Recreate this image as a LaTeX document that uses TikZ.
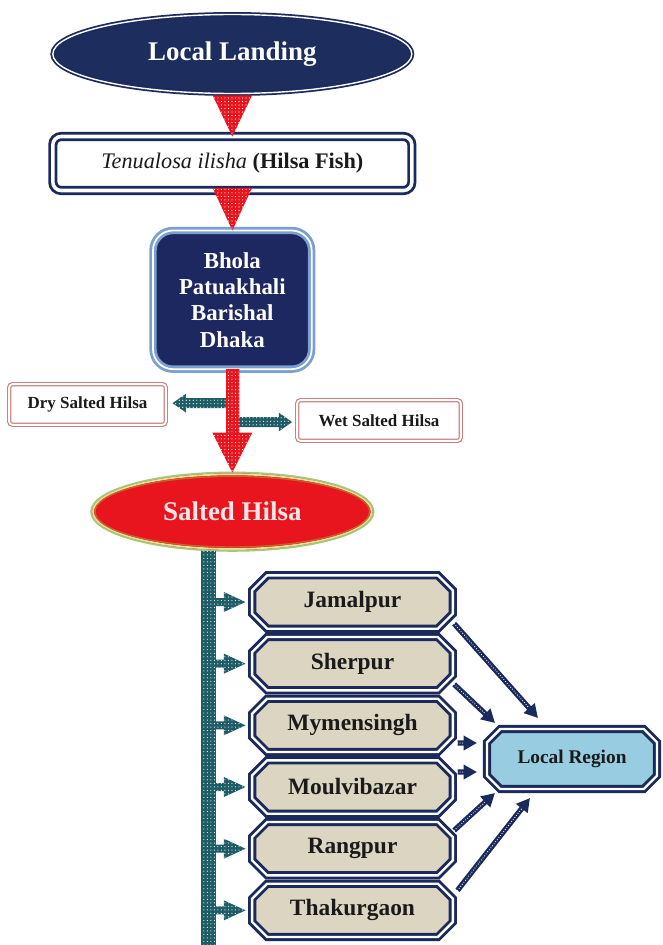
\documentclass[tikz,border=0pt]{standalone}
\usepackage{fontspec}
\setmainfont{Liberation Serif}
\usetikzlibrary{positioning, calc, patterns, shapes.geometric, arrows.meta}
\pgfdeclarelayer{background}
\pgfsetlayers{background,main}

\definecolor{navy}{HTML}{1B2A5C}
\definecolor{navyfill}{HTML}{1C2D5E}
\definecolor{cityfill}{HTML}{1D2760}
\definecolor{cityline}{HTML}{7A9FD0}
\definecolor{redfill}{HTML}{E8141E}
\definecolor{tealfill}{HTML}{1E5C66}
\definecolor{beige}{HTML}{DBD5C1}
\definecolor{lightblue}{HTML}{98CCE0}
\definecolor{pinkline}{HTML}{CC7E80}
\definecolor{saltgreen}{HTML}{A3C77A}
\definecolor{saltyellow}{HTML}{F3DC9A}
\definecolor{saltorange}{HTML}{C8602A}
\definecolor{saltred}{HTML}{E8141E}
\definecolor{saltpink}{HTML}{FBE6E6}
\definecolor{inktext}{HTML}{1A1A1A}

\begin{document}
\begin{tikzpicture}[
	landing/.style={ellipse, draw=navy, double=white, line width=1.5pt, double distance=1.2pt, fill=navyfill, text=white, minimum width=107.7mm, minimum height=23.7mm, inner sep=0pt, outer sep=0pt, font=\fontsize{23}{27}\selectfont\bfseries},
	fishbox/.style={rectangle, rounded corners=2.5mm, draw=navy, double=white, line width=2.4pt, double distance=3pt, fill=white, text=inktext, minimum width=107.7mm, minimum height=16.2mm, inner sep=0pt, outer sep=0pt, font=\fontsize{19}{22}\selectfont},
	citybox/.style={rectangle, rounded corners=6mm, draw=cityline, double=white, line width=2.4pt, double distance=1.5pt, fill=cityfill, text=white, align=center, minimum width=47.6mm, minimum height=41.6mm, inner sep=0pt, outer sep=0pt, font=\fontsize{19.5}{22.5}\selectfont\bfseries},
	endbox/.style={rectangle, rounded corners=1mm, draw=pinkline, double=white, line width=1pt, double distance=1.6pt, fill=white, text=inktext, minimum height=12.2mm, inner sep=0pt, outer sep=0pt, font=\fontsize{14.5}{17}\selectfont\bfseries},
	saltedhilsa/.style={ellipse, draw=saltgreen, line width=1.6pt, fill=saltred, text=saltpink, minimum width=84.7mm, minimum height=23.5mm, inner sep=0pt, outer sep=0pt, font=\fontsize{23}{27}\selectfont\bfseries,
		path picture={\draw[saltyellow, line width=1.6pt] (path picture bounding box.center) ellipse (41.8mm and 11.2mm);
		\draw[saltorange, line width=1.2pt] (path picture bounding box.center) ellipse (41.2mm and 10.6mm);}},
	district/.style={rectangle, text=inktext, minimum width=60.2mm, minimum height=16mm, inner sep=0pt, outer sep=0pt, font=\fontsize{20}{24}\selectfont\bfseries},
	regionbox/.style={district, minimum width=51mm, minimum height=18mm, font=\fontsize{16.5}{20}\selectfont\bfseries},
	octline/.style={draw=navy, double=white, line width=2.5pt, double distance=2pt},
	redarrow/.style={fill=redfill, postaction={pattern=dots, pattern color=white}},
	tealarrow/.style={fill=tealfill, postaction={pattern=dots, pattern color=white}},
	navyarrow/.style={draw=navy, line width=1.6mm, -{Triangle[width=4.2mm, length=4mm]}, postaction={draw=white, -, line width=1pt, dash pattern=on 0pt off 2.2pt, line cap=round, shorten >=4mm}},
	>=LaTeX
]
\useasboundingbox (0,0) rectangle (198.6mm,-283.5mm);

\node[landing] (landing) at (69.7mm,-16.2mm) {Local Landing};
\node[fishbox, below=12.9mm of landing] (fish) {\textit{Tenualosa ilisha} \textbf{(Hilsa Fish)}};
\node[citybox, below=12mm of fish] (bhola) {Bhola\\Patuakhali\\Barishal\\Dhaka};
\node[endbox, minimum width=47mm] (dry) at (26.25mm,-121.35mm) {Dry Salted Hilsa};
\node[endbox, minimum width=49.1mm] (wet) at (113.7mm,-126.15mm) {Wet Salted Hilsa};
\node[saltedhilsa, below=31mm of bhola] (salted) {Salted Hilsa};

\node[district] (jamalpur) at (105.75mm,-180.6mm) {Jamalpur};
\node[district, below=2.5mm of jamalpur] (sherpur) {Sherpur};
\node[district, below=2.5mm of sherpur] (mymensingh) {Mymensingh};
\node[district, below=2.5mm of mymensingh] (moulvibazar) {Moulvibazar};
\node[district, below=2.5mm of moulvibazar] (rangpur) {Rangpur};
\node[district, below=2.5mm of rangpur] (thakurgaon) {Thakurgaon};
\node[regionbox] (local) at (171.6mm,-227.7mm) {Local Region};

% octagon frames
\begin{pgfonlayer}{background}
\foreach \d/\c/\f in {jamalpur/4.5mm/beige, sherpur/4.5mm/beige, mymensingh/4.5mm/beige, moulvibazar/4.5mm/beige, rangpur/4.5mm/beige, thakurgaon/4.5mm/beige, local/4mm/lightblue}
	\draw[octline, fill=\f] ($(\d.north west)+(\c,0)$) -- ($(\d.north east)+(-\c,0)$) -- ($(\d.north east)+(0,-\c)$) -- ($(\d.south east)+(0,\c)$) -- ($(\d.south east)+(-\c,0)$) -- ($(\d.south west)+(\c,0)$) -- ($(\d.south west)+(0,\c)$) -- ($(\d.north west)+(0,-\c)$) -- cycle;
\end{pgfonlayer}

% landing to fish to bhola
\fill[redarrow] ($(landing.south)+(-5.9mm,-0.6mm)$) -- ($(landing.south)+(5.9mm,-0.6mm)$) -- (fish.north) -- cycle;
\fill[redarrow] ($(fish.south)+(-5.9mm,0.8mm)$) -- ($(fish.south)+(5.9mm,0.8mm)$) -- (bhola.north) -- cycle;

% dry and wet
\fill[tealarrow] ($(dry.east)+(2mm,0.4mm)$) -- ++(4mm,2.8mm) -- ++(0,-1.3mm) -- ++(12.5mm,0) -- ++(0,-3mm) -- ++(-12.5mm,0) -- ++(0,-1.3mm) -- cycle;
\fill[tealarrow] ($(wet.west)+(-1.5mm,-0.45mm)$) -- ++(-4mm,2.8mm) -- ++(0,-1.3mm) -- ++(-12.5mm,0) -- ++(0,-3mm) -- ++(12.5mm,0) -- ++(0,-1.3mm) -- cycle;

\fill[redarrow] ($(bhola.south)+(-1.9mm,0)$) -- ($(bhola.south)+(2.1mm,0)$) -- ($(salted.north)+(2.1mm,12mm)$) -- ($(salted.north)+(6mm,12mm)$) -- (salted.north) -- ($(salted.north)+(-6mm,12mm)$) -- ($(salted.north)+(-1.9mm,12mm)$) -- cycle;

% distribution line
\fill[tealarrow] ($(salted.south)+(-9.3mm,0)$) rectangle ($(salted.south)+(-4.8mm,-120mm)$);
\foreach \d in {jamalpur, sherpur, mymensingh, moulvibazar, rangpur, thakurgaon}
	\fill[tealarrow] ($(\d.west)+(-2mm,0)$) -- ++(-6.5mm,3mm) -- ++(0,-1.8mm) -- ++(-2.5mm,0) -- ++(0,-2.4mm) -- ++(2.5mm,0) -- ++(0,-1.8mm) -- cycle;

% to local region
\draw[navyarrow] ($(jamalpur.center)+(30.5mm,-6.5mm)$) -- ($(local.center)+(-10.2mm,12.3mm)$);
\draw[navyarrow] ($(sherpur.center)+(30.5mm,-6.2mm)$) -- ($(local.center)+(-23.1mm,10.8mm)$);
\draw[navyarrow] ($(mymensingh.center)+(31.5mm,-5.3mm)$) -- ($(local.center)+(-28.5mm,4.8mm)$);
\draw[navyarrow] ($(moulvibazar.center)+(31.5mm,4.5mm)$) -- ($(local.center)+(-28.5mm,-3.9mm)$);
\draw[navyarrow] ($(rangpur.center)+(30.5mm,5.5mm)$) -- ($(local.center)+(-23.1mm,-10.2mm)$);
\draw[navyarrow] ($(thakurgaon.center)+(31.5mm,6mm)$) -- ($(local.center)+(-12.6mm,-11.7mm)$);

\end{tikzpicture}
\end{document}
